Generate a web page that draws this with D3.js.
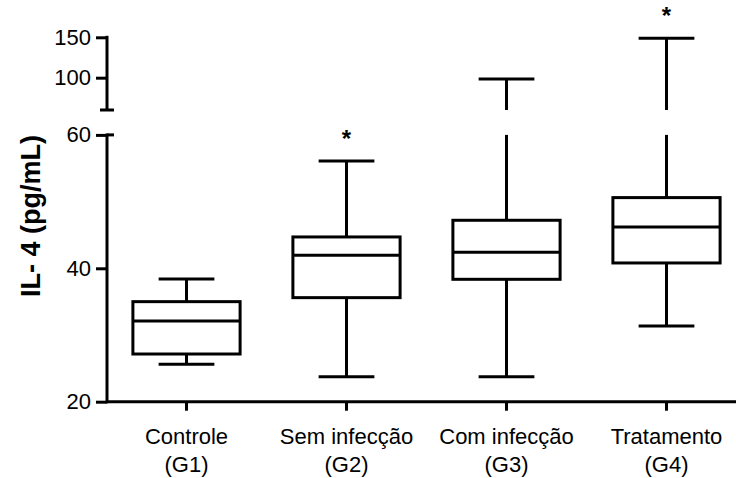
<!DOCTYPE html>
<html>
<head>
<meta charset="utf-8">
<script src="https://cdn.jsdelivr.net/npm/d3@7"></script>
<style>
  html, body { margin: 0; padding: 0; background: #fff; }
  svg { display: block; }
  text { font-family: "Liberation Sans", Arial, Helvetica, sans-serif; fill: #000; }
</style>
</head>
<body>
<svg id="chart" width="736" height="478"></svg>
<script>
// Groups and their box-plot summaries (IL-4, pg/mL)
const categories = ["Controle (G1)", "Sem infecção (G2)", "Com infecção (G3)", "Tratamento (G4)"];
const labelLine1 = ["Controle", "Sem infecção", "Com infecção", "Tratamento"];
const labelLine2 = ["(G1)", "(G2)", "(G3)", "(G4)"];
const whiskerLow = [25.6, 23.75, 23.75, 31.35];
const q1 = [27.15, 35.6, 38.35, 40.8];
const median = [32.1, 41.95, 42.4, 46.2];
const q3 = [35.0, 44.7, 47.2, 50.6];
const whiskerHigh = [38.4, 56.1, 98.4, 148.7];
const significant = [false, true, false, true];

// Broken y axis: lower and upper segments
const lowerTicks = [20, 40, 60];
const upperTicks = [100, 150];
const breakValue = 60;

const svg = d3.select("#chart");
const stroke = 3;

const x = d3.scaleBand().domain(categories).range([106.5, 746.5]).padding(0);
const yLow = d3.scaleLinear().domain([20, 60]).range([401.7, 134.9]);
const yHigh = d3.scaleLinear().domain([60, 150]).range([110, 37.3]);
const boxW = x.bandwidth() * 0.67;
const capW = boxW * 0.52;
const cx = d => x(d) + x.bandwidth() / 2;

// Lower y axis
const axLow = svg.append("g").attr("transform", "translate(107,0)")
  .call(d3.axisLeft(yLow).tickValues(lowerTicks).tickSize(11).tickPadding(5).tickFormat(d3.format("d")));
// Upper y axis
const axHigh = svg.append("g").attr("transform", "translate(107,0)")
  .call(d3.axisLeft(yHigh).tickValues(upperTicks).tickSize(11).tickPadding(5).tickFormat(d3.format("d")));
[axLow, axHigh].forEach(g => {
  g.select(".domain").remove();
  g.selectAll(".tick line").attr("stroke", "#000").attr("stroke-width", stroke);
  g.selectAll(".tick text").attr("font-size", 22).style("font-family", "'Liberation Sans', Arial, sans-serif");
});
// axis spines
svg.append("line").attr("x1", 107).attr("x2", 107)
  .attr("y1", yLow(60) - stroke / 2).attr("y2", yLow(20) + stroke / 2)
  .attr("stroke", "#000").attr("stroke-width", stroke);
svg.append("line").attr("x1", 107).attr("x2", 107)
  .attr("y1", yHigh(150) - stroke / 2).attr("y2", yHigh(60))
  .attr("stroke", "#000").attr("stroke-width", stroke);
// break caps
svg.append("line").attr("x1", 100).attr("x2", 114)
  .attr("y1", yHigh(breakValue)).attr("y2", yHigh(breakValue))
  .attr("stroke", "#000").attr("stroke-width", stroke);
svg.append("line").attr("x1", 107).attr("x2", 114)
  .attr("y1", yLow(breakValue)).attr("y2", yLow(breakValue))
  .attr("stroke", "#000").attr("stroke-width", stroke);

// x axis
const xAxis = svg.append("g").attr("transform", `translate(0,${yLow(20)})`)
  .call(d3.axisBottom(x).tickSize(9).tickFormat(""));
xAxis.select(".domain").remove();
xAxis.selectAll(".tick line").attr("stroke", "#000").attr("stroke-width", stroke);
svg.append("line").attr("x1", 107).attr("x2", 736)
  .attr("y1", yLow(20)).attr("y2", yLow(20))
  .attr("stroke", "#000").attr("stroke-width", stroke);

// category labels (two lines)
const lab = svg.append("g").selectAll("text").data(categories).join("text")
  .attr("text-anchor", "middle").attr("font-size", 22)
  .attr("transform", d => `translate(${cx(d)},0)`);
lab.append("tspan").attr("x", 0).attr("y", 444).text((d, i) => labelLine1[i]);
lab.append("tspan").attr("x", 0).attr("y", 472).text((d, i) => labelLine2[i]);

// y axis title
svg.append("text")
  .attr("transform", "translate(40,216) rotate(-90)")
  .attr("text-anchor", "middle").attr("font-size", 27).attr("font-weight", "bold")
  .text("IL- 4 (pg/mL)");

// box plots
const boxes = svg.append("g").selectAll("g").data(categories).join("g");
function vSeg(g, xpos, y1, y2) {
  g.append("line").attr("x1", xpos).attr("x2", xpos).attr("y1", y1).attr("y2", y2)
    .attr("stroke", "#000").attr("stroke-width", stroke);
}
boxes.each(function (d, i) {
  const g = d3.select(this);
  const c = cx(d);
  // upper whisker, split across the axis break when needed
  if (whiskerHigh[i] > breakValue) {
    vSeg(g, c, yHigh(whiskerHigh[i]), yHigh(breakValue));
    vSeg(g, c, yLow(breakValue), yLow(q3[i]));
  } else {
    vSeg(g, c, yLow(whiskerHigh[i]), yLow(q3[i]));
  }
  vSeg(g, c, yLow(q1[i]), yLow(whiskerLow[i]));
  const yTop = whiskerHigh[i] > breakValue ? yHigh(whiskerHigh[i]) : yLow(whiskerHigh[i]);
  g.append("line").attr("x1", c - capW / 2).attr("x2", c + capW / 2).attr("y1", yTop).attr("y2", yTop)
    .attr("stroke", "#000").attr("stroke-width", stroke);
  g.append("line").attr("x1", c - capW / 2).attr("x2", c + capW / 2)
    .attr("y1", yLow(whiskerLow[i])).attr("y2", yLow(whiskerLow[i]))
    .attr("stroke", "#000").attr("stroke-width", stroke);
  g.append("rect").attr("x", c - boxW / 2).attr("y", yLow(q3[i]))
    .attr("width", boxW).attr("height", yLow(q1[i]) - yLow(q3[i]))
    .attr("fill", "#fff").attr("stroke", "#000").attr("stroke-width", stroke);
  g.append("line").attr("x1", c - boxW / 2).attr("x2", c + boxW / 2)
    .attr("y1", yLow(median[i])).attr("y2", yLow(median[i]))
    .attr("stroke", "#000").attr("stroke-width", stroke);
  if (significant[i]) {
    g.append("text").attr("x", c).attr("y", yTop - 14).attr("text-anchor", "middle")
      .attr("font-size", 24).attr("font-weight", "bold").text("*");
  }
});
</script>
</body>
</html>
